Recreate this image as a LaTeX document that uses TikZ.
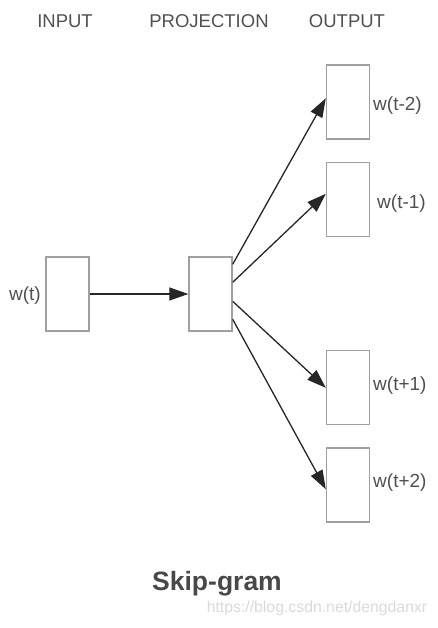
\documentclass[tikz,border=0pt]{standalone}
\usepackage{fontspec}
\setmainfont{Liberation Sans}
\usetikzlibrary{arrows.meta,calc}
\definecolor{boxgray}{HTML}{A0A0A0}
\definecolor{txtgray}{HTML}{505050}
\definecolor{wmgray}{HTML}{DADADA}
\tikzset{
  vec/.style={draw, minimum width=43pt, minimum height=74pt, draw=boxgray, line width=1.4pt, inner sep=0pt},
  hdr/.style={text=txtgray, font=\fontsize{18.5}{20}\selectfont, inner sep=0pt},
  lbl/.style={text=txtgray, font=\fontsize{19}{21}\selectfont, inner sep=0pt, anchor=west},
  arr/.style={draw=black!85, line width=1.3pt, -{Triangle[length=19pt,width=13pt]}}
}
\begin{document}
\begin{tikzpicture}[x=1pt,y=-1pt]
\useasboundingbox (0,0) rectangle (438,628);
\node[hdr] (hin) at (65,21) {INPUT};
\node[hdr] (hpr) at (209,21) {PROJECTION};
\node[hdr] (hout) at (347,21) {OUTPUT};
\node[vec] (in) at (67.5,294) {};
\node[vec] (pr) at (210.5,294) {};
\node[vec] (o1) at (348,102) {};
\node[vec] (o2) at (348,199.5) {};
\node[vec] (o3) at (348,387.5) {};
\node[vec] (o4) at (348,485) {};
\node[lbl, anchor=east] (lin) at (41,296) {w(t)};
\node[lbl] (l1) at (373,106) {w(t-2)};
\node[lbl] (l2) at (377,204) {w(t-1)};
\node[lbl] (l3) at (373,386) {w(t+1)};
\node[lbl] (l4) at (373,483) {w(t+2)};
\draw[arr] (in.east) -- (pr.west);
\draw[arr] ($(pr.north east)+(0,8)$) -- ($(o1.north west)+(0,34)$);
\draw[arr] ($(pr.north east)+(0,26)$) -- ($(o2.north west)+(0,32)$);
\draw[arr] ($(pr.north east)+(0,45)$) -- ($(o3.north west)+(0,38)$);
\draw[arr] ($(pr.north east)+(0,63)$) -- ($(o4.north west)+(0,42)$);
\node[text=txtgray!90!black, font=\bfseries\fontsize{26.5}{28}\selectfont, inner sep=0pt] (title) at (217,584) {Skip-gram};
\node[text=wmgray, font=\fontsize{15.8}{18}\selectfont, inner sep=0pt] (wm) at (317,608) {https://blog.csdn.net/dengdanxr};
\end{tikzpicture}
\end{document}
